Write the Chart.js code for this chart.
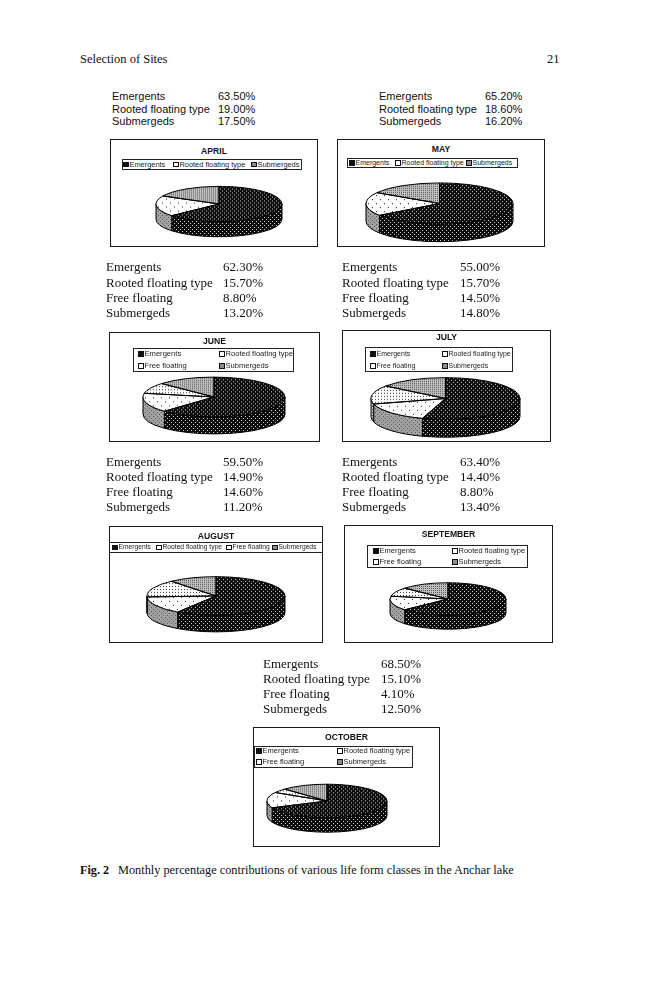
<!DOCTYPE html>
<html><head><meta charset="utf-8">
<script src="https://cdn.jsdelivr.net/npm/chart.js@4"></script>
<style>
html,body{margin:0;padding:0;background:#fff;}
#page{position:relative;width:659px;height:1000px;overflow:hidden;}
.t{position:absolute;white-space:nowrap;color:#111;}
.serif{font-family:"Liberation Serif","Times New Roman",serif;}
.sans{font-family:"Liberation Sans",Arial,sans-serif;}
.box{position:absolute;border:1px solid #1a1a1a;box-sizing:border-box;background:#fff;}
.lgbox{position:absolute;border:1px solid #222;box-sizing:border-box;}
.sw{position:absolute;border:1px solid #111;box-sizing:content-box;}
canvas.pie{position:absolute;}
</style></head>
<body><div id="page"></div>
<script>
// ---------- DATA ----------
const months = ['APRIL','MAY','JUNE','JULY','AUGUST','SEPTEMBER','OCTOBER'];
const categories3 = ['Emergents','Rooted floating type','Submergeds'];
const categories4 = ['Emergents','Rooted floating type','Free floating','Submergeds'];
const aprilValues = [63.5, 19.0, 17.5];
const mayValues = [65.2, 18.6, 16.2];
const juneValues = [62.3, 15.7, 8.8, 13.2];
const julyValues = [55.0, 15.7, 14.5, 14.8];
const augustValues = [59.5, 14.9, 14.6, 11.2];
const septemberValues = [63.4, 14.4, 8.8, 13.4];
const octoberValues = [68.5, 15.1, 4.1, 12.5];
const headerText = 'Selection of Sites';
const pageNumber = '21';
const captionLabel = 'Fig. 2';
const captionText = 'Monthly percentage contributions of various life form classes in the Anchar lake';

// ---------- LAYOUT ----------
const K = 0.28, DEPTH = 0.24;
const charts = [
  {cats:categories3, vals:aprilValues, font:'sans', fs:11, tx:112, vx:218, rows:[97,109.5,122],
   box:[110,139,318,247], ty:151, lg:{box:[122,159,302,170], items:[[123,164.5],[173,164.5],[251,164.5]], fs:7.4},
   pie:{cx:219, top:186, rx:63}},
  {cats:categories3, vals:mayValues, font:'sans', fs:11, tx:379, vx:485, rows:[97,109.5,122],
   box:[337,139,545,247], ty:149, lg:{box:[347,158,518,168], items:[[349,163],[395,163],[466,163]], fs:7.0},
   pie:{cx:439.5, top:183, rx:73.5}},
  {cats:categories4, vals:juneValues, font:'serif', fs:13, tx:106, vx:223, rows:[267,283,298,313],
   box:[109,332,320,442], ty:341, lg:{box:[133,348,294,372], items:[[138,354],[219,354],[138,366],[219,366]], fs:7.6},
   pie:{cx:214, top:377, rx:71}},
  {cats:categories4, vals:julyValues, font:'serif', fs:13, tx:342, vx:460, rows:[267,283,298,313],
   box:[342,330,551,442], ty:337, lg:{box:[365,347,513,372], items:[[370,354],[442,354],[370,366],[442,366]], fs:7.0},
   pie:{cx:445.5, top:378, rx:74.5}},
  {cats:categories4, vals:augustValues, font:'serif', fs:13, tx:106, vx:223, rows:[462,477,492,507],
   box:[109,526,323,643], ty:536, lg:{full:true, box:[109,542,323,553], items:[[112,547.5],[156,547.5],[226,547.5],[272,547.5]], fs:6.7},
   pie:{cx:216, top:577, rx:69}},
  {cats:categories4, vals:septemberValues, font:'serif', fs:13, tx:342, vx:460, rows:[462,477,492,507],
   box:[344,525,553,643], ty:534, lg:{box:[367,545,528,568], items:[[373,551],[452,551],[373,562],[452,562]], fs:7.5},
   pie:{cx:448, top:583, rx:58}},
  {cats:categories4, vals:octoberValues, font:'serif', fs:13, tx:263, vx:381, rows:[664,679,694,709],
   box:[253,727,440,847], ty:737, lg:{box:[254,746,413,768], items:[[256,751],[337,751],[256,762],[337,762]], fs:7.5},
   pie:{cx:327, top:784, rx:60}}
];

const page = document.getElementById('page');
function text(str, x, y, cls, size, extra){
  const d = document.createElement('div');
  d.className = 't ' + cls;
  d.textContent = str;
  d.style.left = x + 'px';
  d.style.top = (y - size*0.62) + 'px';
  d.style.fontSize = size + 'px';
  d.style.lineHeight = (size*1.24) + 'px';
  if (extra) Object.assign(d.style, extra);
  page.appendChild(d);
  return d;
}

// header
text(headerText, 80, 60, 'serif', 12.5);
text(pageNumber, 547, 60, 'serif', 12.5);
// caption
text(captionLabel, 80, 871, 'serif', 12.2, {fontWeight:'bold'});
text(captionText, 118, 871, 'serif', 12.3);

// ---------- PATTERNS ----------
function makePattern(w, h, bg, dots, dotColor, sy){
  const c = document.createElement('canvas'); c.width = w; c.height = h;
  const g = c.getContext('2d');
  g.fillStyle = bg; g.fillRect(0,0,w,h);
  g.fillStyle = dotColor;
  dots.forEach(([x,y]) => g.fillRect(x,y,1,1));
  const p = g.createPattern(c, 'repeat');
  if (sy) p.setTransform(new DOMMatrix([1,0,0,sy,0,0]));
  return p;
}
function patternSet(sy){
  return {
    'Emergents': makePattern(4,4,'#0c0c0c',[[1,1],[3,3]],'#d0d0d0',sy),
    'Rooted floating type': makePattern(8,8,'#fff',[[1,1],[5,5]],'#222',sy),
    'Free floating': makePattern(3,3,'#fff',[[1,1]],'#333',sy),
    'Submergeds': makePattern(2,2,'#c0c0c0',[[0,0]],'#555',sy)
  };
}
const topPat = patternSet(1/K);
const sidePat = {
  'Emergents': makePattern(4,4,'#0c0c0c',[[1,1],[3,3]],'#c8c8c8'),
  'Rooted floating type': makePattern(4,4,'#a2a2a2',[[1,1],[3,3]],'#555'),
  'Free floating': makePattern(3,3,'#b8b8b8',[[1,1]],'#555'),
  'Submergeds': makePattern(2,2,'#8a8a8a',[[0,0]],'#333')
};
const swatchBg = {
  'Emergents':'#111',
  'Rooted floating type':'#fff',
  'Free floating':'#fff',
  'Submergeds':'#8c8c8c'
};

function frontIntervals(s, e){
  const TAU = 2*Math.PI;
  const off = Math.floor(s/TAU)*TAU;
  s -= off; e -= off;
  const res = [];
  for (const [a,b] of [[0,Math.PI],[TAU,TAU+Math.PI]]){
    const lo = Math.max(s,a), hi = Math.min(e,b);
    if (hi > lo) res.push([lo,hi]);
  }
  return res;
}

const pie3d = {
  id:'pie3d',
  beforeDatasetsDraw(chart){
    const ctx = chart.ctx;
    const arcs = chart.getDatasetMeta(0).data;
    const labels = chart.data.labels;
    const {x, y, outerRadius:r} = arcs[0].getProps(['x','y','outerRadius'], true);
    const d = r*DEPTH;
    ctx.save();
    ctx.lineWidth = 1; ctx.strokeStyle = '#000'; ctx.lineJoin = 'round';
    arcs.forEach((a,i) => {
      const {startAngle, endAngle} = a.getProps(['startAngle','endAngle'], true);
      frontIntervals(startAngle, endAngle).forEach(([s,e]) => {
        ctx.save();
        ctx.translate(x,y); ctx.scale(1,K);
        ctx.beginPath();
        ctx.arc(0,0,r,s,e);
        ctx.arc(0,d/K,r,e,s,true);
        ctx.closePath();
        ctx.restore();
        ctx.fillStyle = sidePat[labels[i]];
        ctx.fill();
        ctx.stroke();
      });
    });
    ctx.restore();
    ctx.save();
    ctx.translate(0, y*(1-K));
    ctx.scale(1,K);
  },
  afterDatasetsDraw(chart){
    const ctx = chart.ctx;
    ctx.restore();
    const arcs = chart.getDatasetMeta(0).data;
    const {x, y, outerRadius:r} = arcs[0].getProps(['x','y','outerRadius'], true);
    ctx.save();
    ctx.lineWidth = 1; ctx.strokeStyle = '#000'; ctx.lineJoin = 'round';
    arcs.forEach(a => {
      const {startAngle, endAngle} = a.getProps(['startAngle','endAngle'], true);
      ctx.save();
      ctx.translate(x,y); ctx.scale(1,K);
      ctx.beginPath();
      ctx.moveTo(0,0);
      ctx.arc(0,0,r,startAngle,endAngle);
      ctx.closePath();
      ctx.restore();
      ctx.stroke();
    });
    ctx.restore();
  }
};

// ---------- BUILD ----------
charts.forEach((c, idx) => {
  c.cats.forEach((cat, i) => {
    text(cat, c.tx, c.rows[i], c.font, c.fs);
    text(c.vals[i].toFixed(2) + '%', c.vx, c.rows[i], c.font, c.fs);
  });
  const [x1,y1,x2,y2] = c.box;
  const b = document.createElement('div');
  b.className = 'box';
  Object.assign(b.style, {left:x1+'px', top:y1+'px', width:(x2-x1)+'px', height:(y2-y1)+'px'});
  page.appendChild(b);
  text(months[idx], x1, c.ty, 'sans', 8.6, {fontWeight:'bold', width:(x2-x1)+'px', textAlign:'center'});
  const [lx1,ly1,lx2,ly2] = c.lg.box;
  const lb = document.createElement('div');
  lb.className = 'lgbox';
  Object.assign(lb.style, {left:lx1+'px', top:ly1+'px', width:(lx2-lx1)+'px', height:(ly2-ly1)+'px'});
  if (c.lg.full){ lb.style.borderLeft = 'none'; lb.style.borderRight = 'none'; }
  page.appendChild(lb);
  c.cats.forEach((cat, i) => {
    const [sx, sy] = c.lg.items[i];
    const sw = document.createElement('div');
    sw.className = 'sw';
    const s = 3.6;
    Object.assign(sw.style, {left:sx+'px', top:(sy - s/2 - 1)+'px', width:s+'px', height:s+'px', background:swatchBg[cat]});
    page.appendChild(sw);
    text(cat, sx + 6.5, sy, 'sans', c.lg.fs, {color:'#222'});
  });
  const p = c.pie;
  const cy = p.top + K*p.rx;
  const pad = 3;
  const size = Math.round(2*p.rx + 2*pad);
  const cv = document.createElement('canvas');
  cv.className = 'pie';
  cv.width = size; cv.height = size;
  cv.style.width = size+'px'; cv.style.height = size+'px';
  cv.style.left = (p.cx - size/2) + 'px';
  cv.style.top = (cy - size/2) + 'px';
  page.appendChild(cv);
  new Chart(cv, {
    type:'pie',
    data:{labels:c.cats, datasets:[{data:c.vals, backgroundColor:c.cats.map(k=>topPat[k]), borderWidth:0, hoverOffset:0}]},
    options:{responsive:false, animation:false, events:[], layout:{padding:pad},
      plugins:{legend:{display:false}, tooltip:{enabled:false}, title:{display:false}}},
    plugins:[pie3d]
  });
});
</script>
</body></html>
